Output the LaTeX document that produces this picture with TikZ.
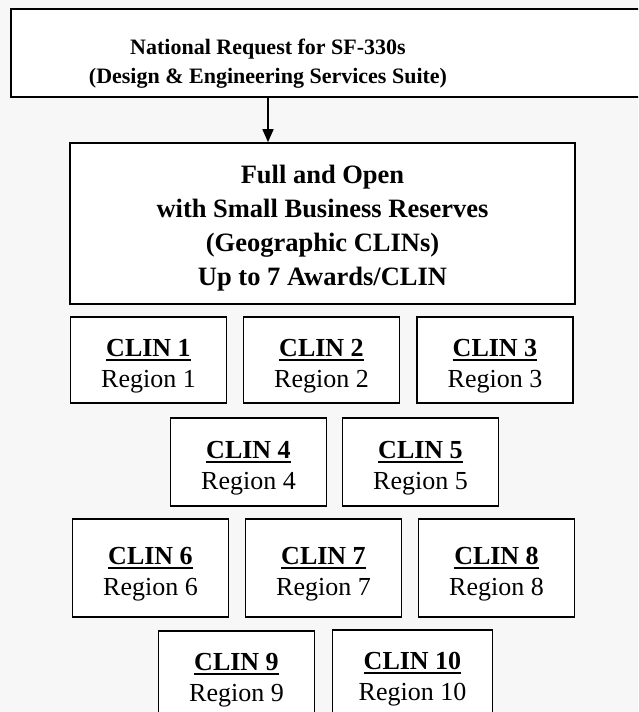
\documentclass[tikz,border=0pt]{standalone}
\usepackage{fontspec}
\setmainfont{Liberation Serif}
\usetikzlibrary{arrows.meta,positioning}

\definecolor{pagebg}{HTML}{F7F7F7}

% underline drawn as a rule a little under the baseline
\newcommand{\clinline}[1]{\setbox0\hbox{#1}\leavevmode\rlap{\rule[-4.5pt]{\wd0}{1.8pt}}\box0}

\tikzset{
  box/.style={draw, line width=1.6pt, fill=white, inner sep=0pt, align=center},
  clin/.style={box, minimum width=156pt, minimum height=86pt,
    font=\fontsize{26}{31}\selectfont},
}

\begin{document}
\begin{tikzpicture}[x=1pt, y=-1pt]
    \useasboundingbox (0,0) rectangle (638,712);
    \fill[pagebg] (0,0) rectangle (638,712);
    \clip (0,0) rectangle (638,712);

    % national request
    \node[box, minimum width=660pt, minimum height=88pt, anchor=north west] (reqbox) at (10,8) {};
    \node[font=\fontsize{22}{29}\selectfont\bfseries, align=center] (req) at (268,64)
        {National Request for SF-330s\\(Design \& Engineering Services Suite)};

    % full and open
    \node[box, minimum width=505pt, minimum height=161pt, font=\fontsize{26.5}{34}\selectfont\bfseries] (open) at (322.5,223.5)
        {\rule{0pt}{28pt}Full and Open\\with Small Business Reserves\\(Geographic CLINs)\\Up to 7 Awards/CLIN};

    \draw[line width=1.6pt, -{Triangle[length=13pt, width=11pt]}] (reqbox.south -| req) -- (open.north -| req);

    % CLINs
    \node[clin] (clin1) at (148.5,360) {\rule{0pt}{30pt}\clinline{\textbf{CLIN 1}}\\Region 1};
    \node[clin] (clin2) at (321.5,360) {\rule{0pt}{30pt}\clinline{\textbf{CLIN 2}}\\Region 2};
    \node[clin] (clin3) at (495,360)   {\rule{0pt}{30pt}\clinline{\textbf{CLIN 3}}\\Region 3};

    \node[clin, minimum height=88pt] (clin4) at (248.5,462) {\rule{0pt}{30pt}\clinline{\textbf{CLIN 4}}\\Region 4};
    \node[clin, minimum height=88pt] (clin5) at (420.5,462) {\rule{0pt}{30pt}\clinline{\textbf{CLIN 5}}\\Region 5};

    \node[clin, minimum height=98pt] (clin6) at (150.5,568) {\rule{0pt}{30pt}\clinline{\textbf{CLIN 6}}\\Region 6};
    \node[clin, minimum height=98pt] (clin7) at (323.5,568) {\rule{0pt}{30pt}\clinline{\textbf{CLIN 7}}\\Region 7};
    \node[clin, minimum height=98pt] (clin8) at (496.5,568) {\rule{0pt}{30pt}\clinline{\textbf{CLIN 8}}\\Region 8};

    \node[clin] (clin9)  at (236.5,674) {\rule{0pt}{30pt}\clinline{\textbf{CLIN 9}}\\Region 9};
    \node[clin, minimum width=160pt] (clin10) at (412.5,673) {\rule{0pt}{30pt}\clinline{\textbf{CLIN 10}}\\Region 10};
\end{tikzpicture}
\end{document}
